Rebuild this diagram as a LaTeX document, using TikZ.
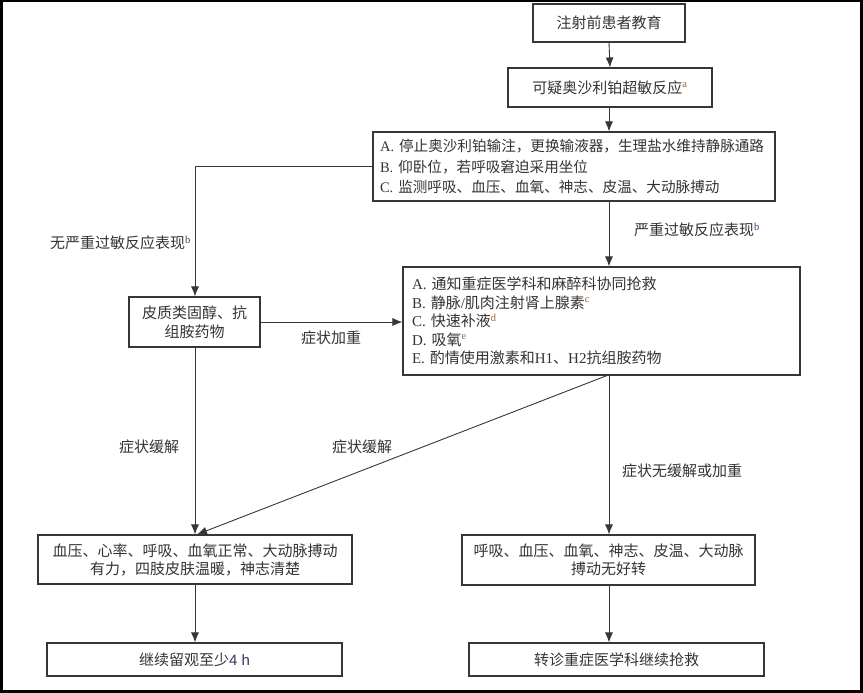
\documentclass[tikz,border=0pt]{standalone}
\usepackage{fontspec}
\setmainfont{Liberation Serif}
\setsansfont{Liberation Sans}
\newfontfamily\cjk{Noto Sans CJK SC}
\usetikzlibrary{arrows.meta,calc}
\definecolor{ink}{HTML}{333333}
\definecolor{edge}{HTML}{3A3434}
\definecolor{supo}{HTML}{A0622D}
\definecolor{supb}{HTML}{34406A}
\definecolor{navy}{HTML}{2E3A5C}
\newcommand\lt[1]{{\rmfamily #1}}
\newcommand\supo[1]{{\color{supo}\textsuperscript{\rmfamily #1}}}
\newcommand\supb[1]{{\color{supb}\textsuperscript{\rmfamily #1}}}
\tikzset{
  box/.style={draw=edge, line width=1.1pt, text=ink, inner sep=0pt, align=center,
     font=\cjk\fontsize{15}{19}\selectfont},
  listbox/.style={box, align=left, inner xsep=9pt},
  lab/.style={text=ink, inner sep=0pt, font=\cjk\fontsize{15}{18}\selectfont},
  arr/.style={draw=edge, line width=0.9pt, -{Latex[length=10pt,width=8pt]}},
  ln/.style={draw=edge, line width=0.9pt}
}
\begin{document}
\begin{tikzpicture}[x=1pt,y=-1pt]
\useasboundingbox (0,0) rectangle (863,693);
\draw[black, line width=3pt] (1.5,1) rectangle (861,691);

\node[box, minimum width=152pt, minimum height=38pt] (b1) at (609,23) {注射前患者教育};
\node[box, minimum width=204pt, minimum height=39pt] (b2) at (610,87.5) {可疑奥沙利铂超敏反应\supo{a}};
\node[listbox, minimum width=402pt, minimum height=69pt, text width=388pt, inner xsep=7pt,
      font=\cjk\fontsize{14.6}{20.5}\selectfont] (b3) at (574,166.5)
  {\lt{A.} 停止奥沙利铂输注，更换输液器，生理盐水维持静脉通路\\
   \lt{B.} 仰卧位，若呼吸窘迫采用坐位\\
   \lt{C.} 监测呼吸、血压、血氧、神志、皮温、大动脉搏动};
\node[box, minimum width=131pt, minimum height=50pt] (b4) at (194.5,322)
  {皮质类固醇、抗\\组胺药物};
\node[listbox, minimum width=397pt, minimum height=108pt, text width=379pt,
      font=\cjk\fontsize{15}{18.5}\selectfont] (b5) at (601.5,321)
  {\lt{A.} 通知重症医学科和麻醉科协同抢救\\
   \lt{B.} 静脉\lt{/}肌肉注射肾上腺素\supo{c}\\
   \lt{C.} 快速补液\supo{d}\\
   \lt{D.} 吸氧\supo{e}\\
   \lt{E.} 酌情使用激素和\lt{H1}、\lt{H2}抗组胺药物};
\node[box, minimum width=314pt, minimum height=49pt, font=\cjk\fontsize{15}{18}\selectfont] (b6) at (195,559.5)
  {血压、心率、呼吸、血氧正常、大动脉搏动\\有力，四肢皮肤温暖，神志清楚};
\node[box, minimum width=293pt, minimum height=50pt, font=\cjk\fontsize{15}{18}\selectfont] (b7) at (608.5,560)
  {呼吸、血压、血氧、神志、皮温、大动脉\\搏动无好转};
\node[box, minimum width=295pt, minimum height=33pt] (b8) at (194.5,659.5)
  {继续留观至少{\sffamily\color{navy}4 h}};
\node[box, minimum width=295pt, minimum height=33pt] (b9) at (616.5,659.5)
  {转诊重症医学科继续抢救};

% labels
\node[lab, anchor=east] (l1) at (191,243) {无严重过敏反应表现\supb{b}};
\node[lab, anchor=west] (l2) at (634,230) {严重过敏反应表现\supb{b}};
\node[lab] (l3) at (331,338) {症状加重};
\node[lab] (l4) at (149,447) {症状缓解};
\node[lab] (l5) at (362,447) {症状缓解};
\node[lab, anchor=west] (l6) at (622,471) {症状无缓解或加重};

% connectors
\coordinate (cx) at (609,0);
\coordinate (lx) at (195,0);
\draw[arr] (b1.south) -- (b2.south |- b2.north) ;
\draw[arr] (b2.south -| cx) -- (b3.north -| cx);
\draw[arr] (b3.west) -| (b4.north -| lx);
\draw[arr] (b3.south -| cx) -- (b5.north -| cx);
\draw[arr] (b4.east) -- (b4.east -| b5.west);
\draw[arr] (b4.south -| lx) -- (b6.north -| lx);
\coordinate (dstart) at ($(b5.south -| cx)+(-2,0)$);
\coordinate (dend) at ($(b6.north -| lx)+(2,0)$);
\draw[arr] (dstart) -- (dend);
\draw[arr] (b5.south -| cx) -- (b7.north -| cx);
\draw[arr] (b6.south -| lx) -- (b8.north -| lx);
\draw[arr] (b7.south -| cx) -- (b9.north -| cx);
\end{tikzpicture}
\end{document}
